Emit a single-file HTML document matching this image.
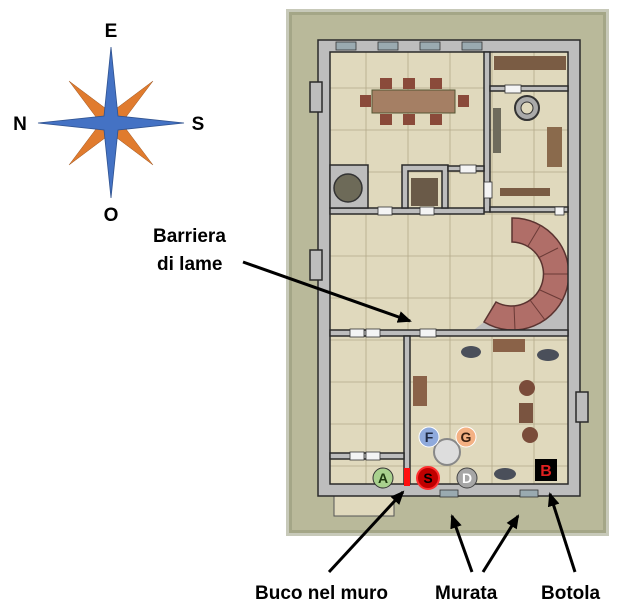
<!DOCTYPE html>
<html><head><meta charset="utf-8"><style>
html,body{margin:0;padding:0;background:#fff;}
svg{display:block;font-family:"Liberation Sans",sans-serif;}
</style></head><body>
<svg width="618" height="614" viewBox="0 0 618 614" xmlns="http://www.w3.org/2000/svg">
<defs>
<marker id="ah2" markerWidth="14" markerHeight="12" refX="12" refY="6" orient="auto" markerUnits="userSpaceOnUse"><path d="M0,0 L14,6 L0,12 z" fill="#000"/></marker>
</defs>
<!-- compass -->
<g fill="#e07b2e" stroke="#9a5420" stroke-width="0.5">
<polygon points="69,81 117,117 105,129"/>
<polygon points="153,81 117,129 105,117"/>
<polygon points="69,165 105,117 117,129"/>
<polygon points="153,165 105,129 117,117"/>
</g>
<polygon points="111,47 118,116 184,123 118,130 111,198 104,130 38,123 104,116" fill="#4472c4" stroke="#2f528f" stroke-width="0.8"/>
<g font-size="19" font-weight="bold" text-anchor="middle">
<text x="111" y="37">E</text>
<text x="111" y="221">O</text>
<text x="20" y="130">N</text>
<text x="198" y="130">S</text>
</g>
<!-- map -->
<rect x="289" y="12" width="317" height="521" fill="#b9b99a"/>
<rect x="289" y="12" width="317" height="521" fill="none" stroke="#8f9474" stroke-width="6" opacity="0.5"/>
<rect x="322" y="44" width="253" height="450" fill="#e0d9bd"/>
<rect x="334" y="492" width="60" height="24" fill="#e0d9bd" stroke="#555" stroke-width="1"/>
<g stroke="#b3a98a" stroke-width="0.8">
<line x1="322" y1="88" x2="575" y2="88"/><line x1="322" y1="130" x2="575" y2="130"/><line x1="322" y1="172" x2="575" y2="172"/><line x1="322" y1="214" x2="575" y2="214"/><line x1="322" y1="256" x2="575" y2="256"/><line x1="322" y1="298" x2="575" y2="298"/><line x1="322" y1="340" x2="575" y2="340"/><line x1="322" y1="382" x2="575" y2="382"/><line x1="322" y1="424" x2="575" y2="424"/><line x1="322" y1="466" x2="575" y2="466"/>
<line x1="366" y1="44" x2="366" y2="494"/><line x1="408" y1="44" x2="408" y2="494"/><line x1="450" y1="44" x2="450" y2="494"/><line x1="492" y1="44" x2="492" y2="494"/><line x1="534" y1="44" x2="534" y2="494"/>
</g>
<!-- stairs -->
<path d="M568,284 L568,333 L470,333 L484,322 A56,56 0 0 0 567,284 Z" fill="#bdbdbd"/>
<path d="M512,218 A56,56 0 1 1 484,322 L496,302 A32,32 0 1 0 512,242 Z" fill="#b06e68" stroke="#5a3330" stroke-width="1.5"/>
<g stroke="#6a3a36" stroke-width="1">
<line x1="540" y1="226" x2="528" y2="246"/><line x1="558" y1="248" x2="538" y2="258"/><line x1="568" y1="274" x2="544" y2="274"/><line x1="562" y1="300" x2="540" y2="290"/><line x1="545" y1="320" x2="530" y2="300"/><line x1="515" y1="330" x2="514" y2="306"/>
</g>
<!-- walls -->
<g fill="#bdbdbd" stroke="#2a2a2a" stroke-width="1.5">
<path d="M318,40 L580,40 L580,496 L318,496 Z M330,52 L330,484 L568,484 L568,52 Z" fill-rule="evenodd"/>
<rect x="484" y="52" width="6" height="160"/>
<rect x="490" y="86" width="78" height="5"/>
<rect x="490" y="207" width="78" height="5"/>
<rect x="330" y="208" width="154" height="6"/>
<rect x="330" y="330" width="238" height="6"/>
<rect x="404" y="336" width="6" height="148"/>
<rect x="330" y="453" width="74" height="6"/>
<path d="M330,165 L368,165 L368,208 L330,208 Z"/>
<path d="M402,165 L448,165 L448,208 L442,208 L442,171 L408,171 L408,208 L402,208 Z"/>
<rect x="448" y="166" width="36" height="5"/>
<rect x="310" y="82" width="12" height="30"/><rect x="310" y="250" width="12" height="30"/><rect x="576" y="392" width="12" height="30"/>
</g>
<circle cx="348" cy="188" r="14" fill="#6d6a58" stroke="#333" stroke-width="1.5"/>
<g fill="#f4f4f4" stroke="#333" stroke-width="0.8">
<rect x="336" y="42" width="20" height="8" fill="#9aaab0"/><rect x="378" y="42" width="20" height="8" fill="#9aaab0"/><rect x="420" y="42" width="20" height="8" fill="#9aaab0"/><rect x="462" y="42" width="20" height="8" fill="#9aaab0"/>
<rect x="378" y="207" width="14" height="8"/><rect x="420" y="207" width="14" height="8"/><rect x="460" y="165" width="16" height="8"/><rect x="484" y="182" width="8" height="16"/><rect x="505" y="85" width="16" height="8"/><rect x="555" y="207" width="9" height="8"/>
<rect x="350" y="329" width="14" height="8"/><rect x="366" y="329" width="14" height="8"/><rect x="420" y="329" width="16" height="8"/>
<rect x="350" y="452" width="14" height="8"/><rect x="366" y="452" width="14" height="8"/>
<rect x="440" y="490" width="18" height="7" fill="#9aaab0"/><rect x="520" y="490" width="18" height="7" fill="#9aaab0"/>
</g>
<rect x="372" y="90" width="83" height="23" fill="#a57f64" stroke="#553" stroke-width="1"/>
<g fill="#8a4a3a"><rect x="380" y="78" width="12" height="11"/><rect x="403" y="78" width="12" height="11"/><rect x="430" y="78" width="12" height="11"/><rect x="380" y="114" width="12" height="11"/><rect x="403" y="114" width="12" height="11"/><rect x="430" y="114" width="12" height="11"/><rect x="360" y="95" width="11" height="12"/><rect x="458" y="95" width="11" height="12"/></g>
<rect x="494" y="56" width="72" height="14" fill="#7a5c44"/>
<rect x="547" y="127" width="15" height="40" fill="#8a6a4c"/>
<rect x="500" y="188" width="50" height="8" fill="#7a5c44"/>
<rect x="493" y="108" width="8" height="45" fill="#6e6b5c"/>
<circle cx="527" cy="108" r="12" fill="#aaa" stroke="#333" stroke-width="2"/><circle cx="527" cy="108" r="6" fill="#e0d9bd" stroke="#333"/>
<rect x="411" y="178" width="27" height="28" fill="#6a5a48"/>
<rect x="413" y="376" width="14" height="30" fill="#8a6248"/>
<rect x="493" y="339" width="32" height="13" fill="#8a6248"/>
<rect x="519" y="403" width="14" height="20" fill="#7a5440"/><circle cx="527" cy="388" r="8" fill="#7a4c3a"/><circle cx="530" cy="435" r="8" fill="#7a4c3a"/>
<g fill="#4a4f5a"><ellipse cx="471" cy="352" rx="10" ry="6"/><ellipse cx="548" cy="355" rx="11" ry="6"/><ellipse cx="505" cy="474" rx="11" ry="6"/></g>
<circle cx="447" cy="452" r="13" fill="#ddd" stroke="#888" stroke-width="2"/>
<g font-weight="bold" font-size="14" text-anchor="middle">
<circle cx="429" cy="437" r="10" fill="#8faadc" stroke="#fff" stroke-width="1"/><text x="429" y="442" fill="#1f2a44">F</text>
<circle cx="466" cy="437" r="10" fill="#f4b183" stroke="#fff" stroke-width="1"/><text x="466" y="442" fill="#3a2010">G</text>
<circle cx="383" cy="478" r="10" fill="#a9d18e" stroke="#333" stroke-width="1"/><text x="383" y="483" fill="#1f3a10">A</text>
<circle cx="428" cy="478" r="11" fill="#c00000" stroke="#ff3030" stroke-width="2"/><text x="428" y="483" fill="#000">S</text>
<circle cx="467" cy="478" r="10" fill="#a6a6a6" stroke="#444" stroke-width="1"/><text x="467" y="483" fill="#fff">D</text>
<rect x="535" y="459" width="22" height="22" fill="#000"/><text x="546" y="476" fill="#e02020" font-size="16">B</text>
</g>
<rect x="404" y="468" width="6" height="18" fill="#ff1010"/>
<g font-weight="bold" font-size="19" fill="#000">
<text x="153" y="242">Barriera</text>
<text x="157" y="270">di lame</text>
<text x="255" y="599">Buco nel muro</text>
<text x="435" y="599">Murata</text>
<text x="541" y="599">Botola</text>
</g>
<g stroke="#000" stroke-width="3" fill="none">
<line x1="243" y1="262" x2="410" y2="321" marker-end="url(#ah2)"/>
<line x1="329" y1="572" x2="403" y2="492" marker-end="url(#ah2)"/>
<line x1="472" y1="572" x2="452" y2="516" marker-end="url(#ah2)"/>
<line x1="483" y1="572" x2="518" y2="516" marker-end="url(#ah2)"/>
<line x1="575" y1="572" x2="550" y2="494" marker-end="url(#ah2)"/>
</g>
</svg>
</body></html>
